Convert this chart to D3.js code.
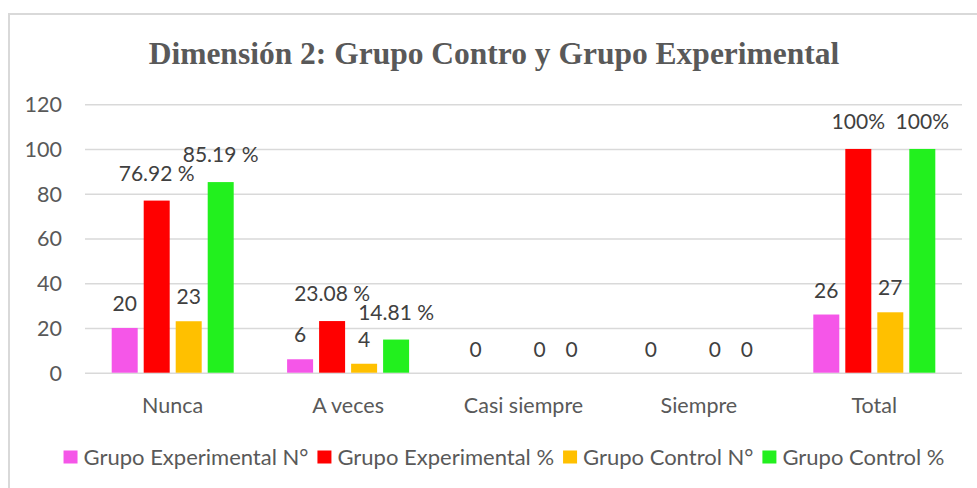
<!DOCTYPE html>
<html>
<head>
<meta charset="utf-8">
<script src="https://cdn.jsdelivr.net/npm/d3@7"></script>
<style>
  html, body { margin: 0; padding: 0; background: #ffffff; }
  svg { display: block; }
</style>
</head>
<body>
<svg id="chart" width="977" height="488"></svg>
<script>
const titleText = "Dimensión 2: Grupo Contro y Grupo Experimental";
const categories = ["Nunca", "A veces", "Casi siempre", "Siempre", "Total"];
const seriesNames = ["Grupo Experimental N°", "Grupo Experimental %", "Grupo Control N°", "Grupo Control %"];
const seriesColors = ["#F556E8", "#FF0000", "#FFC000", "#22F01E"];
const expN   = [20, 6, 0, 0, 26];
const expPct = [76.92, 23.08, 0, 0, 100];
const ctlN   = [23, 4, 0, 0, 27];
const ctlPct = [85.19, 14.81, 0, 0, 100];
const expNLabels   = ["20", "6", "0", "0", "26"];
const expPctLabels = ["76.92 %", "23.08 %", "", "", "100%"];
const ctlNLabels   = ["23", "4", "0", "0", "27"];
const ctlPctLabels = ["85.19 %", "14.81 %", "0", "0", "100%"];
const yTicks = [0, 20, 40, 60, 80, 100, 120];

const seriesValues = [expN, expPct, ctlN, ctlPct];
const seriesLabels = [expNLabels, expPctLabels, ctlNLabels, ctlPctLabels];

const svg = d3.select("#chart");
const font = "Lato, 'Open Sans', sans-serif";
const textColor = "#595959";
const gridColor = "#D9D9D9";
const labelGap = [17, 20, 17, 20];

// frame
svg.append("path")
  .attr("d", "M9,488 V14 H977")
  .attr("fill", "none")
  .attr("stroke", gridColor)
  .attr("stroke-width", 2);

// title
svg.append("text")
  .attr("x", 494).attr("y", 64)
  .attr("text-anchor", "middle")
  .attr("font-family", "'Liberation Serif', 'Times New Roman', serif")
  .attr("font-weight", "bold")
  .attr("font-size", 31.5)
  .attr("fill", textColor)
  .text(titleText);

const plot = { left: 85, right: 962, top: 104.2, bottom: 372.7 };

const y = d3.scaleLinear().domain([0, 120]).range([plot.bottom, plot.top]);
const x0 = d3.scaleBand().domain(categories).range([plot.left, plot.right]).padding(0);
const groupW = 122;
const x1 = d3.scaleBand().domain(d3.range(seriesNames.length)).range([0, groupW]).paddingInner(6 / 32).paddingOuter(0);
const groupOffset = (x0.bandwidth() - groupW) / 2;

// gridlines
const yAxis = d3.axisLeft(y).tickValues(yTicks).tickSize(-(plot.right - plot.left)).tickPadding(23);
const gAxis = svg.append("g").attr("transform", `translate(${plot.left},0)`).call(yAxis);
gAxis.select(".domain").remove();
gAxis.selectAll(".tick line").attr("stroke", gridColor).attr("stroke-width", 1.5);
gAxis.selectAll(".tick text")
  .attr("font-family", font).attr("font-size", 21.5).attr("fill", textColor)
  .attr("dy", "0.35em");

// category labels
const xAxis = d3.axisBottom(x0).tickSize(0).tickPadding(0);
const gx = svg.append("g").attr("transform", `translate(0,${plot.bottom})`).call(xAxis);
gx.select(".domain").remove();
gx.selectAll(".tick text")
  .attr("font-family", font).attr("font-size", 21.5).attr("fill", textColor)
  .attr("dy", null).attr("y", 40);

// bars
const barData = [];
categories.forEach((c, ci) => {
  seriesValues.forEach((vals, si) => {
    barData.push({ c, si, v: vals[ci], label: seriesLabels[si][ci] });
  });
});

svg.append("g").selectAll("rect").data(barData).join("rect")
  .attr("x", d => x0(d.c) + groupOffset + x1(d.si))
  .attr("y", d => y(d.v))
  .attr("width", x1.bandwidth())
  .attr("height", d => y(0) - y(d.v))
  .attr("fill", d => seriesColors[d.si]);

svg.append("g").selectAll("text").data(barData.filter(d => d.label !== "")).join("text")
  .attr("x", d => x0(d.c) + groupOffset + x1(d.si) + x1.bandwidth() / 2)
  .attr("y", d => y(d.v) - (d.v > 0 ? labelGap[d.si] : 16))
  .attr("text-anchor", "middle")
  .attr("font-family", font).attr("font-size", 21).attr("fill", "#404040")
  .text(d => d.label);

// legend
const legend = svg.append("g");
let cx = 0;
seriesNames.forEach((name, i) => {
  const g = legend.append("g");
  g.append("rect").attr("x", 0).attr("y", -6.5).attr("width", 14).attr("height", 13).attr("fill", seriesColors[i]);
  const t = g.append("text").attr("x", 20).attr("y", 0).attr("dy", "0.35em")
    .attr("font-family", font).attr("font-size", 22).attr("fill", textColor).text(name);
  const w = 20 + t.node().getComputedTextLength();
  g.attr("transform", `translate(${cx},0)`);
  cx += w + 9;
});
const totalW = cx - 9;
legend.attr("transform", `translate(${504 - totalW / 2},457)`);
</script>
</body>
</html>
